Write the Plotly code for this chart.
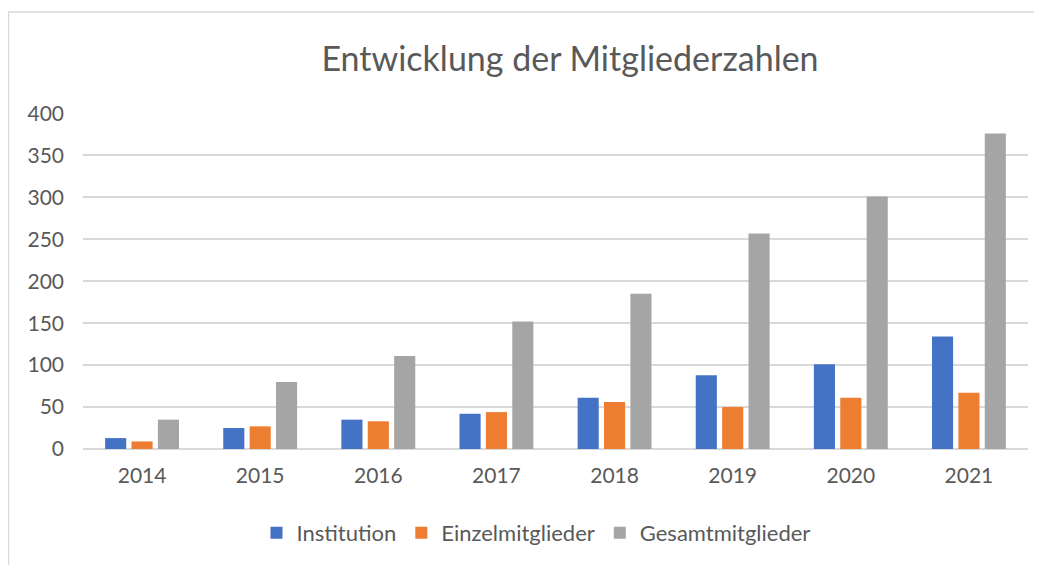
import plotly.graph_objects as go

years = ["2014", "2015", "2016", "2017", "2018", "2019", "2020", "2021"]
institution = [13, 25, 35, 42, 61, 88, 101, 134]
einzelmitglieder = [9, 27, 33, 44, 56, 50, 61, 67]
gesamtmitglieder = [35, 80, 111, 152, 185, 257, 301, 376]
y_ticks = [0, 50, 100, 150, 200, 250, 300, 350, 400]

# page has an 8px body margin, so the figure canvas starts at (8, 8)
OFF = 8
W, H = 1042 - OFF, 565 - OFF
PLOT_L, PLOT_R, PLOT_T, PLOT_B = 83, 1028, 113, 449  # reference pixel positions
L, R, T, B = PLOT_L - OFF, W - (PLOT_R - OFF), PLOT_T - OFF, H - (PLOT_B - OFF)
PW, PH = W - L - R, H - T - B

def px_x(px):
    return (px - OFF - L) / PW

def px_y(py):
    return (H - B - (py - OFF)) / PH

FONT = "Lato"
TXT = "#595959"
GRID = "#D9D9D9"

fig = go.Figure()
for name, vals, col in [
    ("Institution", institution, "#4472C4"),
    ("Einzelmitglieder", einzelmitglieder, "#ED7D31"),
    ("Gesamtmitglieder", gesamtmitglieder, "#A5A5A5"),
]:
    fig.add_trace(go.Bar(x=years, y=vals, name=name, marker=dict(color=col, line=dict(width=0))))

fig.update_layout(
    width=W, height=H,
    margin=dict(l=L, r=R, t=T, b=B, autoexpand=False),
    paper_bgcolor="white", plot_bgcolor="white",
    font=dict(family=FONT, color=TXT, size=20),
    barmode="group", bargap=0.33, bargroupgap=0.2,
    title=dict(text="Entwicklung der Mitgliederzahlen", x=(570 - OFF) / W, xref="container", xanchor="center",
               y=1 - (59 - OFF) / H, yref="container", yanchor="middle",
               font=dict(family=FONT, size=34, color=TXT)),
    xaxis=dict(showgrid=False, showline=False, ticks="", tickfont=dict(size=21, color=TXT),
               ticklabelstandoff=12),
    yaxis=dict(range=[0, 400.5], tickvals=y_ticks, showgrid=True, gridcolor=GRID, gridwidth=1.5,
               zeroline=True, zerolinecolor=GRID, zerolinewidth=1.5, showline=False, ticks="",
               tickfont=dict(size=21, color=TXT), ticklabelstandoff=18),
    legend=dict(orientation="h", x=px_x(536), xanchor="center", xref="paper",
                y=px_y(533), yanchor="middle", yref="paper",
                font=dict(size=22, color=TXT), itemwidth=30, traceorder="normal"),
    shapes=[
        dict(type="line", xref="paper", yref="paper", x0=px_x(8), x1=px_x(1080), y0=px_y(12), y1=px_y(12),
             line=dict(color=GRID, width=1.5)),
        dict(type="line", xref="paper", yref="paper", x0=px_x(8.5), x1=px_x(8.5), y0=px_y(12), y1=px_y(600),
             line=dict(color=GRID, width=1.5)),
    ],
)

fig.write_html("out.html")
